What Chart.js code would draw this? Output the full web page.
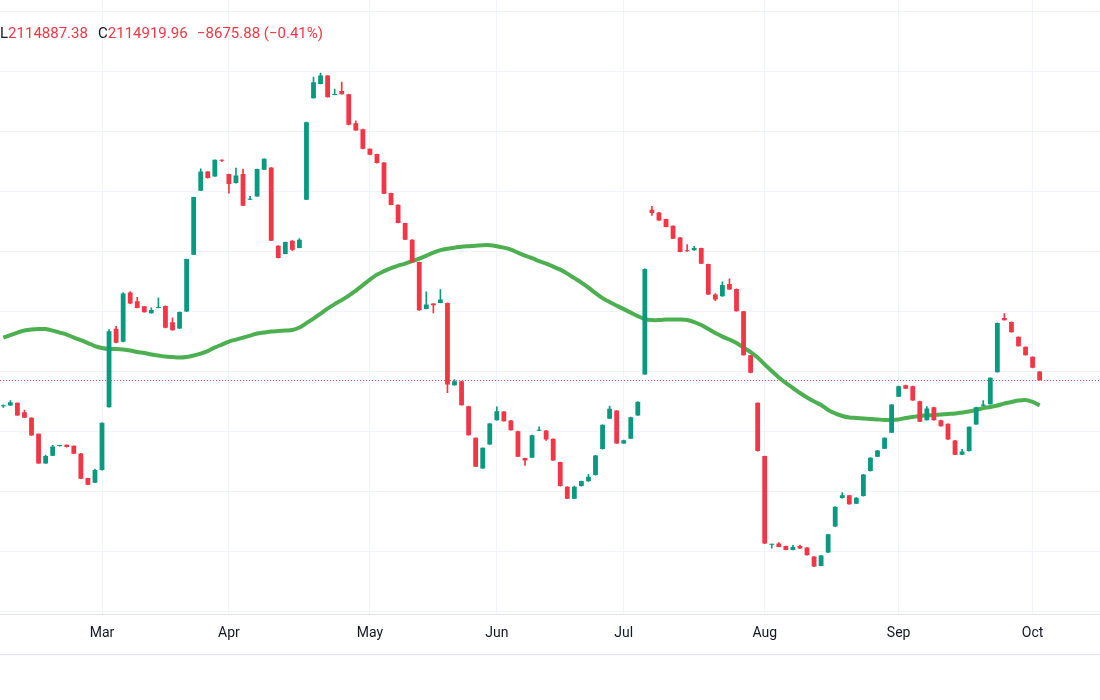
<!DOCTYPE html>
<html lang="en">
<head>
  <meta charset="UTF-8">
  <title>Index daily candles</title>
  <script src="https://cdn.jsdelivr.net/npm/chart.js"></script>
  <style>
    * {
      box-sizing: border-box;
      margin: 0;
      padding: 0;
    }

    body {
      width: 1100px;
      height: 700px;
      background: #ffffff;
      font-family: 'Roboto', sans-serif;
      overflow: hidden;
    }

    .wrap {
      position: relative;
      width: 1100px;
      height: 700px;
    }

    .legend span {
      position: absolute;
      top: 24px;
      font-size: 15px;
      line-height: 18px;
      color: #f23645;
      white-space: nowrap;
    }

    .legend b {
      font-weight: 400;
      color: #131722;
    }
  </style>
</head>
<body>
  <div class="wrap">
    <canvas id="candles" width="1100" height="700"></canvas>
    <div class="legend">
      <span style="left:0px"><b>L</b>2114887.38</span>
      <span style="left:98px"><b>C</b>2114919.96</span>
      <span style="left:197px">−8675.88 (−0.41%)</span>
    </div>
  </div>

  <script>
    // prices in thousands, one entry per trading day (index 0 = first visible candle)
    const openV = [
      2088.8, 2089.6, 2092.3, 2082.9, 2077.3, 2061.3, 2031.6, 2039.3, 2048.9, 2050.3,
      2049.3, 2041.6, 2016.9, 2012.3, 2024.9, 2087.9, 2166.3, 2153.3, 2202.6, 2193.9,
      2188.9, 2181.9, 2187.3, 2189.3, 2172.9, 2166.6, 2183.6, 2240.6, 2304.6, 2323.9,
      2318.9, 2335.6, 2321.3, 2312.3, 2321.3, 2295.6, 2298.9, 2325.6, 2327.9, 2249.6,
      2241.3, 2254.6, 2247.3, 2295.6, 2397.3, 2411.6, 2419.9, 2400.6, 2404.6, 2401.3,
      2372.3, 2366.3, 2346.6, 2341.3, 2332.9, 2302.3, 2290.6, 2272.3, 2255.6, 2233.3,
      2186.3, 2191.6, 2192.3, 2192.3, 2109.9, 2113.9, 2088.9, 2057.3, 2026.6, 2050.6,
      2074.9, 2083.6, 2074.6, 2063.9, 2036.9, 2037.3, 2064.3, 2064.6, 2056.3, 2032.9,
      2008.3, 1996.3, 2008.9, 2013.6, 2019.9, 2045.9, 2076.3, 2084.6, 2051.6, 2056.3,
      2079.6, 2120.6, 2285.6, 2282.9, 2276.3, 2269.6, 2257.9, 2244.6, 2244.9, 2247.3,
      2231.3, 2200.6, 2198.9, 2211.3, 2206.3, 2183.9, 2139.9, 2092.3, 2038.9, 1950.1,
      1951.3, 1948.9, 1944.9, 1948.9, 1947.3, 1938.3, 1928.9, 1942.3, 1968.3, 1996.9,
      1999.6, 1991.3, 1998.9, 2023.9, 2038.3, 2046.3, 2062.3, 2098.3, 2109.9, 2108.9,
      2093.9, 2074.9, 2087.9, 2074.9, 2071.3, 2054.6, 2040.3, 2043.9, 2070.6, 2089.3,
      2090.9, 2122.9, 2177.3, 2173.3, 2158.3, 2148.3, 2138.3, 2123.6
    ];
    const highV = [
      2090.3, 2094.6, 2092.3, 2084.9, 2077.6, 2061.3, 2039.9, 2049.6, 2049.6, 2050.3,
      2049.3, 2041.6, 2016.9, 2025.9, 2072.3, 2165.6, 2168.9, 2202.6, 2203.6, 2197.9,
      2188.9, 2187.3, 2197.3, 2189.3, 2177.3, 2183.3, 2236.3, 2298.3, 2326.6, 2323.9,
      2335.6, 2335.6, 2321.3, 2327.3, 2326.3, 2298.9, 2326.3, 2336.6, 2327.9, 2249.6,
      2253.3, 2254.6, 2256.6, 2373.3, 2418.3, 2422.3, 2419.9, 2406.3, 2413.3, 2401.3,
      2374.6, 2366.3, 2346.6, 2341.3, 2332.9, 2302.3, 2290.6, 2272.3, 2255.6, 2233.3,
      2203.3, 2191.6, 2205.6, 2192.3, 2115.6, 2113.9, 2088.9, 2057.3, 2047.3, 2071.6,
      2088.3, 2083.6, 2074.6, 2063.9, 2036.9, 2059.9, 2068.3, 2064.6, 2056.3, 2032.9,
      2008.3, 2008.9, 2013.9, 2020.6, 2039.6, 2070.3, 2088.9, 2084.6, 2054.9, 2077.9,
      2093.3, 2226.3, 2288.9, 2282.9, 2276.3, 2269.6, 2257.9, 2250.6, 2248.9, 2247.3,
      2231.3, 2201.6, 2213.3, 2216.3, 2206.3, 2183.9, 2139.9, 2092.3, 2038.9, 1950.9,
      1952.3, 1948.9, 1949.6, 1949.9, 1947.3, 1938.3, 1939.3, 1960.6, 1988.3, 2002.3,
      1999.6, 1997.3, 2020.6, 2037.3, 2044.6, 2057.3, 2090.6, 2108.9, 2109.9, 2108.9,
      2093.9, 2088.6, 2087.9, 2074.9, 2071.3, 2054.6, 2045.6, 2068.3, 2087.9, 2094.6,
      2117.3, 2172.3, 2181.6, 2173.3, 2158.3, 2148.3, 2138.3, 2123.6
    ];
    const lowV = [
      2087.6, 2089.6, 2079.6, 2077.3, 2059.6, 2031.6, 2031.6, 2039.3, 2048.9, 2047.9,
      2041.3, 2016.3, 2010.3, 2012.3, 2024.9, 2087.9, 2152.3, 2153.3, 2191.6, 2187.3,
      2182.9, 2181.9, 2187.3, 2167.3, 2164.9, 2166.6, 2183.6, 2240.6, 2304.6, 2317.3,
      2318.9, 2333.6, 2302.3, 2312.3, 2289.6, 2295.6, 2298.9, 2325.6, 2254.6, 2237.3,
      2241.3, 2244.6, 2247.3, 2295.6, 2397.3, 2411.6, 2398.3, 2400.6, 2401.3, 2370.6,
      2364.9, 2346.6, 2340.6, 2332.3, 2301.6, 2290.3, 2272.3, 2255.6, 2232.9, 2184.9,
      2186.3, 2182.3, 2192.3, 2102.3, 2109.9, 2089.9, 2059.9, 2028.3, 2026.6, 2050.6,
      2074.9, 2073.9, 2064.9, 2038.3, 2029.6, 2037.3, 2064.3, 2054.6, 2034.6, 2008.9,
      1996.3, 1996.3, 2008.9, 2013.6, 2019.9, 2045.9, 2076.3, 2051.6, 2051.6, 2056.3,
      2079.6, 2120.6, 2279.9, 2274.9, 2268.3, 2256.6, 2243.3, 2243.9, 2244.9, 2231.6,
      2200.6, 2194.6, 2198.9, 2205.6, 2183.9, 2139.9, 2122.3, 2043.9, 1951.3, 1946.6,
      1947.9, 1944.9, 1944.9, 1946.3, 1939.6, 1928.3, 1928.9, 1942.3, 1968.3, 1996.9,
      1990.6, 1991.3, 1998.9, 2023.9, 2038.3, 2046.3, 2062.3, 2098.3, 2106.3, 2094.6,
      2073.3, 2074.9, 2074.9, 2068.9, 2055.6, 2040.3, 2040.3, 2043.9, 2070.6, 2089.3,
      2090.9, 2122.9, 2174.9, 2162.9, 2148.9, 2139.9, 2127.3, 2114.887
    ];
    const closeV = [
      2089.8, 2092.9, 2079.6, 2077.3, 2059.6, 2031.6, 2038.9, 2048.6, 2049.6, 2047.9,
      2041.3, 2016.3, 2010.3, 2024.9, 2072.3, 2163.9, 2152.3, 2201.6, 2191.6, 2187.3,
      2182.9, 2185.3, 2188.3, 2167.3, 2164.9, 2183.3, 2236.3, 2298.3, 2323.9, 2317.3,
      2335.6, 2334.6, 2311.3, 2319.9, 2289.6, 2296.3, 2326.3, 2336.6, 2254.6, 2237.3,
      2253.3, 2245.6, 2255.6, 2373.3, 2413.3, 2419.9, 2398.3, 2401.6, 2401.3, 2370.6,
      2364.9, 2346.6, 2340.6, 2332.3, 2301.6, 2290.3, 2272.3, 2255.6, 2232.9, 2184.9,
      2190.6, 2189.9, 2195.6, 2110.6, 2113.9, 2089.9, 2059.9, 2028.3, 2047.3, 2071.6,
      2083.9, 2073.9, 2064.9, 2038.3, 2034.6, 2059.9, 2064.9, 2055.6, 2034.6, 2008.9,
      1996.3, 2008.3, 2013.9, 2018.3, 2039.6, 2070.3, 2086.3, 2051.6, 2054.9, 2077.9,
      2093.3, 2226.3, 2282.3, 2274.9, 2268.3, 2256.6, 2243.3, 2243.9, 2247.3, 2231.6,
      2200.6, 2195.6, 2210.3, 2205.6, 2183.9, 2139.9, 2122.3, 2043.9, 1951.3, 1950.9,
      1947.9, 1944.9, 1947.9, 1946.3, 1939.6, 1928.3, 1939.3, 1960.6, 1988.3, 1999.6,
      1990.6, 1997.3, 2020.6, 2037.3, 2044.6, 2057.3, 2090.6, 2108.9, 2106.3, 2094.6,
      2073.3, 2086.6, 2074.9, 2068.9, 2055.6, 2040.3, 2043.6, 2068.3, 2087.9, 2090.6,
      2117.3, 2172.3, 2174.9, 2162.9, 2148.9, 2139.9, 2127.3, 2114.92
    ];
    // moving average line
    const maV = [
      2157.6, 2160.1, 2162.6, 2164.6, 2165.6, 2166.1, 2166.1, 2164.6, 2162.6, 2160.6,
      2157.6, 2155.1, 2152.1, 2149.1, 2147.1, 2146.1, 2146.1, 2145.6, 2144.6, 2143.1,
      2142.1, 2140.6, 2139.6, 2138.6, 2138.1, 2137.6, 2138.1, 2139.6, 2141.6, 2144.1,
      2147.6, 2150.6, 2153.6, 2155.6, 2157.6, 2159.6, 2161.6, 2162.6, 2163.6, 2164.1,
      2164.6, 2165.1, 2167.6, 2172.1, 2176.6, 2181.6, 2186.6, 2191.1, 2195.1, 2199.6,
      2204.6, 2210.1, 2215.6, 2220.6, 2224.1, 2227.1, 2229.6, 2231.6, 2234.1, 2236.6,
      2239.6, 2242.6, 2245.1, 2246.6, 2247.6, 2248.6, 2249.1, 2249.6, 2250.1, 2250.1,
      2249.1, 2247.6, 2245.6, 2242.6, 2239.6, 2237.1, 2234.1, 2231.6, 2228.6, 2225.6,
      2221.6, 2217.1, 2212.6, 2207.6, 2202.1, 2197.1, 2193.1, 2189.6, 2186.1, 2182.6,
      2179.1, 2176.1, 2175.1, 2175.1, 2175.6, 2175.6, 2175.6, 2175.1, 2173.1, 2170.1,
      2166.1, 2162.1, 2158.6, 2155.6, 2152.1, 2147.6, 2143.1, 2137.6, 2130.6, 2124.1,
      2117.6, 2112.1, 2107.1, 2102.1, 2097.6, 2093.6, 2090.1, 2085.1, 2081.6, 2079.1,
      2077.6, 2077.1, 2076.6, 2076.1, 2075.6, 2075.1, 2075.1, 2075.6, 2077.1, 2078.1,
      2079.1, 2079.6, 2080.1, 2080.6, 2081.1, 2081.6, 2082.6, 2083.6, 2085.1, 2087.1,
      2088.1, 2089.6, 2091.6, 2093.1, 2094.6, 2095.1, 2093.1, 2089.6
    ];
    const months = ['Mar', 'Apr', 'May', 'Jun', 'Jul', 'Aug', 'Sep', 'Oct'];
    const monthStart = [14, 32, 52, 70, 88, 108, 127, 146];
    const gridLevels = [2483.6, 2423.6, 2363.6, 2303.6, 2243.6, 2183.6, 2123.6, 2063.6, 2003.6, 1943.6, 1883.6];

    const UP = '#089981';
    const DOWN = '#f23645';
    const GRID = '#f0f3fa';

    const idx = closeV.map((_, i) => i);
    const candleColors = idx.map(i => closeV[i] >= openV[i] ? UP : DOWN);

    // dotted line at the last close, drawn under the candles
    const lastPricePlugin = {
      id: 'lastPrice',
      beforeDatasetsDraw(chart) {
        const { ctx, chartArea, scales } = chart;
        const y = Math.round(scales.y.getPixelForValue(closeV[closeV.length - 1])) + 0.5;
        ctx.save();
        ctx.strokeStyle = 'rgba(242, 54, 69, 0.9)';
        ctx.lineWidth = 1;
        ctx.setLineDash([1, 2]);
        ctx.beginPath();
        ctx.moveTo(chartArea.left, y);
        ctx.lineTo(chartArea.right, y);
        ctx.stroke();
        ctx.restore();
      },
      afterDraw(chart) {
        const { ctx, chartArea } = chart;
        const y = chartArea.bottom + 40.5;
        ctx.save();
        ctx.strokeStyle = '#e0e3eb';
        ctx.lineWidth = 1;
        ctx.beginPath();
        ctx.moveTo(0, y);
        ctx.lineTo(chart.width, y);
        ctx.stroke();
        ctx.restore();
      }
    };

    new Chart(document.getElementById('candles'), {
      type: 'bar',
      data: {
        datasets: [
          {
            label: 'body',
            data: idx.map(i => ({ x: i, y: [openV[i], closeV[i]] })),
            backgroundColor: candleColors,
            borderWidth: 0,
            grouped: false,
            categoryPercentage: 1,
            barPercentage: 0.68,
            minBarLength: 1,
            order: 1
          },
          {
            label: 'wick',
            data: idx.map(i => ({ x: i, y: [lowV[i], highV[i]] })),
            backgroundColor: candleColors,
            borderWidth: 0,
            grouped: false,
            categoryPercentage: 1,
            barPercentage: 1,
            maxBarThickness: 1,
            order: 2
          },
          {
            type: 'line',
            label: 'MA',
            data: idx.map(i => ({ x: i, y: maV[i] })),
            borderColor: '#4caf50',
            borderWidth: 4,
            pointRadius: 0,
            tension: 0.3,
            order: 3
          }
        ]
      },
      options: {
        responsive: false,
        animation: false,
        devicePixelRatio: 1,
        layout: {
          padding: { left: 0, right: 0, top: 0, bottom: 47 }
        },
        plugins: {
          legend: { display: false },
          tooltip: { enabled: false }
        },
        scales: {
          x: {
            type: 'linear',
            min: -0.47,
            max: 155.56,
            offset: false,
            afterBuildTicks: axis => {
              axis.ticks = monthStart.map(v => ({ value: v }));
            },
            ticks: {
              autoSkip: false,
              maxRotation: 0,
              padding: 11,
              color: '#131722',
              font: { family: 'Roboto', size: 14 },
              callback: value => {
                const k = monthStart.indexOf(value);
                return k >= 0 ? months[k] : '';
              }
            },
            grid: {
              color: GRID,
              offset: false,
              drawTicks: false
            },
            border: { color: '#e0e3eb' }
          },
          y: {
            position: 'right',
            min: 1880.6,
            max: 2495.6,
            afterBuildTicks: axis => {
              axis.ticks = gridLevels.map(v => ({ value: v }));
            },
            ticks: { display: false },
            grid: { color: GRID, drawTicks: false },
            border: { display: false }
          }
        }
      },
      plugins: [lastPricePlugin]
    });
  </script>
</body>
</html>
